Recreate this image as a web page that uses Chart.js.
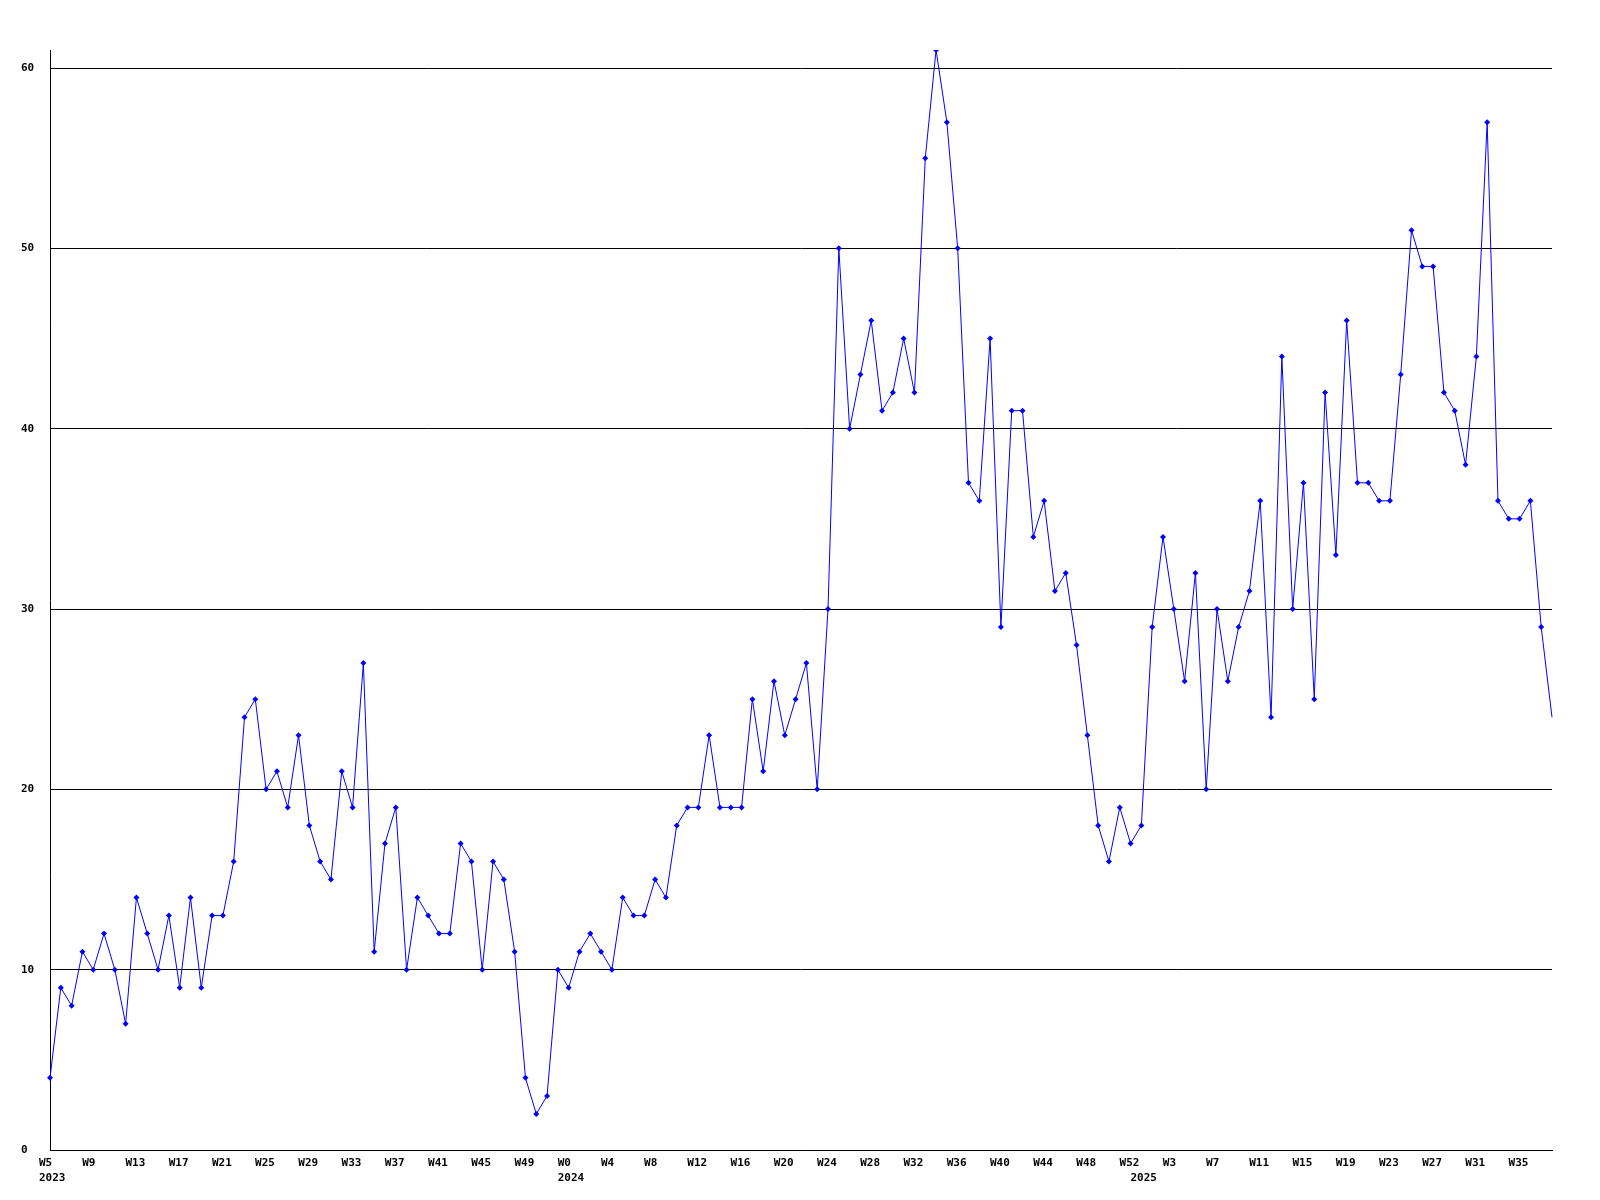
<!DOCTYPE html>
<html>
<head>
<meta charset="utf-8">
<script src="https://cdn.jsdelivr.net/npm/chart.js@4.4.1/dist/chart.umd.min.js"></script>
<style>
  html,body{margin:0;padding:0;background:#fff;}
  #wrap{width:1600px;height:1200px;position:relative;}
</style>
</head>
<body>
<div id="wrap"><canvas id="chart"></canvas></div>
<script>
// weekly counts, one value per week
const years     = [2023, 2024, 2025];
const firstWeek = [5, 0, 0];
const lastWeek  = [52, 52, 38];

const counts2023 = [4,9,8,11,10,12,10,7,14,12,10,13,9,14,9,13,13,16,24,25,20,21,19,23,
  18,16,15,21,19,27,11,17,19,10,14,13,12,12,17,16,10,16,15,11,4,2,3,10];
const counts2024 = [9,11,12,11,10,14,13,13,15,14,18,19,19,23,19,19,19,25,21,26,23,25,27,20,
  30,50,40,43,46,41,42,45,42,55,61,57,50,37,36,45,29,41,41,34,36,31,32,28,23,18,16,19,17];
const counts2025 = [18,29,34,30,26,32,20,30,26,29,31,36,24,44,30,37,25,42,33,46,37,37,36,36,
  43,51,49,49,42,41,38,44,57,36,35,35,36,29,24];

const yTicks = [0,10,20,30,40,50,60];

// categories: {week, year, first} built from the year ranges
const cats=[];
years.forEach((y,i)=>{
  for(let w=firstWeek[i]; w<=lastWeek[i]; w++) cats.push({week:w, year:y, first:w===firstWeek[i]});
});
const values=[...counts2023, ...counts2024, ...counts2025];
const labels=cats.map(c=>'W'+c.week);

const FONT={family:'"DejaVu Sans Mono", "Liberation Mono", monospace', size:11, weight:'bold', lineHeight:1.4};
const last=values.length-1;

new Chart(document.getElementById('chart'),{
  type:'line',
  data:{labels, datasets:[{
    data:values,
    borderColor:'#0000ff', borderWidth:1,
    backgroundColor:'#0000ff',
    pointStyle:'rectRot',
    pointRadius:c=>c.dataIndex===last?0:3,
    pointBorderWidth:0,
    tension:0, fill:false
  }]},
  options:{
    responsive:true, maintainAspectRatio:false, animation:false,
    layout:{padding:{left:21, right:48, top:50, bottom:0}},
    plugins:{legend:{display:false}, tooltip:{enabled:false}},
    scales:{
      x:{
        type:'category', offset:false,
        grid:{drawOnChartArea:false, drawTicks:false},
        border:{display:true, color:'#000', width:1},
        ticks:{
          autoSkip:false, maxRotation:0, minRotation:0,
          align:'start', labelOffset:-11, padding:5,
          color:'#000', font:FONT,
          callback:(v,i)=>{
            const c=cats[i];
            const wk = i%4===0 ? 'W'+c.week : '';
            if(c.first) return [wk, String(c.year)];
            return wk;
          }
        },
        afterFit:s=>{s.height=50;}
      },
      y:{
        min:0, max:61,
        grid:{color:'#000', lineWidth:1, drawTicks:false},
        border:{display:true, color:'#000', width:1},
        afterBuildTicks:s=>{s.ticks=yTicks.map(v=>({value:v}));},
        ticks:{color:'#000', font:FONT, crossAlign:'far', padding:0},
        afterFit:s=>{s.width=29;}
      }
    }
  }
});
</script>
</body>
</html>
